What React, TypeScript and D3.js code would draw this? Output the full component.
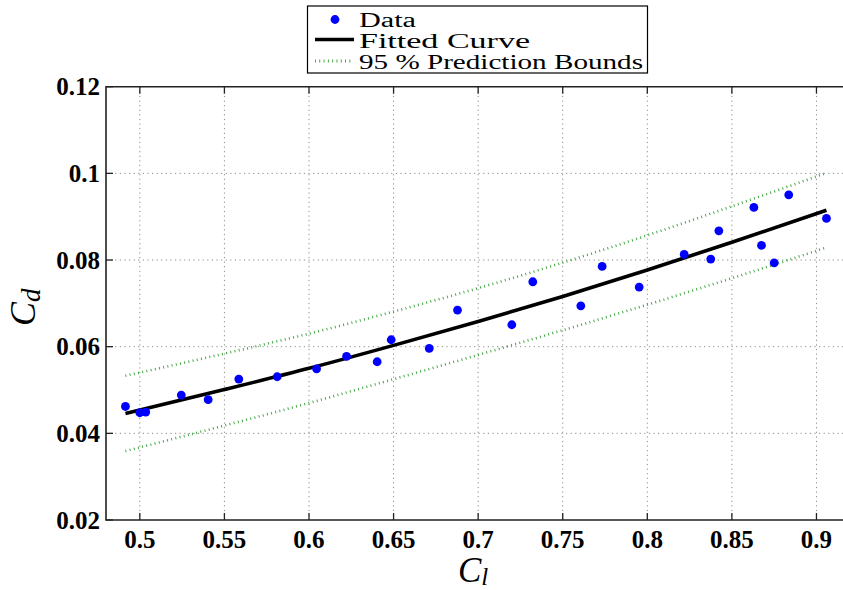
import React from "react";
import * as d3 from "d3";

// Measured data (Cl, Cd)
const dataCl = [0.4915, 0.5, 0.5035, 0.5245, 0.5404, 0.5585, 0.5812, 0.6045, 0.6222, 0.6403, 0.6486, 0.6711, 0.6878, 0.7199, 0.7323, 0.7607, 0.7733, 0.7952, 0.8218, 0.8375, 0.8423, 0.863, 0.8675, 0.875, 0.8836, 0.9059];
const dataCd = [0.0462, 0.04475, 0.0449, 0.04884, 0.04776, 0.05253, 0.05306, 0.0549, 0.05776, 0.05652, 0.0616, 0.0596, 0.06844, 0.06506, 0.07498, 0.06944, 0.07852, 0.07375, 0.08129, 0.08021, 0.08674, 0.09213, 0.08337, 0.07936, 0.09505, 0.0896];

// Fitted curve and 95% prediction bounds
const curveCl = [0.4915, 0.55, 0.6, 0.65, 0.7, 0.75, 0.8, 0.85, 0.9059];
const fitCd = [0.0446, 0.0501, 0.055, 0.0603, 0.0658, 0.0716, 0.0777, 0.0841, 0.0915];
const upperCd = [0.0533, 0.0584, 0.063, 0.0681, 0.0735, 0.0794, 0.0857, 0.0924, 0.1001];
const lowerCd = [0.0359, 0.0418, 0.047, 0.0525, 0.0581, 0.0638, 0.0697, 0.0758, 0.0829];

const xTicks = [0.5, 0.55, 0.6, 0.65, 0.7, 0.75, 0.8, 0.85, 0.9];
const xTickLabels = ["0.5", "0.55", "0.6", "0.65", "0.7", "0.75", "0.8", "0.85", "0.9"];
const yTicks = [0.02, 0.04, 0.06, 0.08, 0.1, 0.12];
const yTickLabels = ["0.02", "0.04", "0.06", "0.08", "0.1", "0.12"];

const legendLabels = ["Data", "Fitted Curve", "95 % Prediction Bounds"];

export default function App() {
  const W = 843, H = 590;
  const left = 106, top = 86.7, bottom = 520, right = 850.3;
  const x = d3.scaleLinear().domain([0.48, 0.92]).range([left, right]);
  const y = d3.scaleLinear().domain([0.02, 0.12]).range([bottom, top]);

  const line = d3.line<[number, number]>()
    .x((d) => x(d[0]))
    .y((d) => y(d[1]))
    .curve(d3.curveMonotoneX);

  const fitPath = line(curveCl.map((c, i) => [c, fitCd[i]]) as [number, number][]) || "";
  const upPath = line(curveCl.map((c, i) => [c, upperCd[i]]) as [number, number][]) || "";
  const loPath = line(curveCl.map((c, i) => [c, lowerCd[i]]) as [number, number][]) || "";

  const gridColor = "#8a8a8a";
  const green = "#36a036";
  const tickFont = { fontFamily: "'Liberation Serif', 'Times New Roman', serif", fontWeight: 700, fontSize: 25 } as const;
  const serif = "'Liberation Serif', 'Times New Roman', serif";

  return (
    <svg width={W} height={H} style={{ position: "absolute", left: 0, top: 0, background: "#fff" }}>
      <rect x={0} y={0} width={W} height={H} fill="#fff" />
      <defs>
        <clipPath id="plotclip">
          <rect x={left} y={top} width={right - left} height={bottom - top} />
        </clipPath>
      </defs>
      {/* grid */}
      <g stroke={gridColor} strokeWidth={1} strokeDasharray="1.2 3.4" fill="none">
        {xTicks.map((t) => (
          <line key={"gx" + t} x1={x(t)} x2={x(t)} y1={top} y2={bottom} />
        ))}
        {yTicks.filter((t) => t > 0.021 && t < 0.119).map((t) => (
          <line key={"gy" + t} x1={left} x2={right} y1={y(t)} y2={y(t)} />
        ))}
      </g>
      {/* ticks */}
      <g stroke="#222" strokeWidth={1.3}>
        {xTicks.map((t) => (
          <g key={"tx" + t}>
            <line x1={x(t)} x2={x(t)} y1={bottom} y2={bottom - 7} />
            <line x1={x(t)} x2={x(t)} y1={top} y2={top + 7} />
          </g>
        ))}
        {yTicks.map((t) => (
          <line key={"ty" + t} x1={left} x2={left + 7} y1={y(t)} y2={y(t)} />
        ))}
      </g>
      {/* series */}
      <g clipPath="url(#plotclip)">
        <path d={upPath} fill="none" stroke={green} strokeWidth={2.6} strokeDasharray="0.9 3.4" />
        <path d={loPath} fill="none" stroke={green} strokeWidth={2.6} strokeDasharray="0.9 3.4" />
        <path d={fitPath} fill="none" stroke="#000" strokeWidth={3.6} />
        {dataCl.map((c, i) => (
          <circle key={"p" + i} cx={x(c)} cy={y(dataCd[i])} r={4.4} fill="#0000ff" />
        ))}
      </g>
      {/* frame */}
      <path d={`M${right},${top}H${left}V${bottom}H${right}`} fill="none" stroke="#222" strokeWidth={1.6} />
      {/* tick labels */}
      <g style={tickFont} fill="#000">
        {xTicks.map((t, i) => (
          <text key={"lx" + t} x={x(t)} y={547.5} textAnchor="middle">{xTickLabels[i]}</text>
        ))}
        {yTicks.map((t, i) => (
          <text key={"ly" + t} x={100} y={y(t) + 8.5} textAnchor="end">{yTickLabels[i]}</text>
        ))}
      </g>
      {/* axis labels */}
      <text x={458} y={582} fontFamily={serif} fontStyle="italic" fontSize={35} fill="#000">
        C<tspan fontSize={25} dy={3}>l</tspan>
      </text>
      <g transform="translate(35,326) rotate(-90)">
        <text x={0} y={0} fontFamily={serif} fontStyle="italic" fontSize={36} fill="#000">
          C<tspan fontSize={27} dy={5}>d</tspan>
        </text>
      </g>
      {/* legend */}
      <g>
        <rect x={307.5} y={6} width={340} height={67} fill="#fff" stroke="#000" strokeWidth={1.2} />
        <circle cx={335} cy={19.5} r={4.4} fill="#0000ff" />
        <line x1={315} x2={354} y1={39.5} y2={39.5} stroke="#000" strokeWidth={3.6} />
        <line x1={315} x2={353} y1={61} y2={61} stroke={green} strokeWidth={3} strokeDasharray="0.9 3.4" />
        <g fontFamily={serif} fontSize={20} fill="#000">
          <text x={359} y={26.5} textLength={57} lengthAdjust="spacingAndGlyphs">{legendLabels[0]}</text>
          <text x={359} y={48} textLength={171} lengthAdjust="spacingAndGlyphs">{legendLabels[1]}</text>
          <text x={359} y={69} textLength={284} lengthAdjust="spacingAndGlyphs">{legendLabels[2]}</text>
        </g>
      </g>
    </svg>
  );
}
